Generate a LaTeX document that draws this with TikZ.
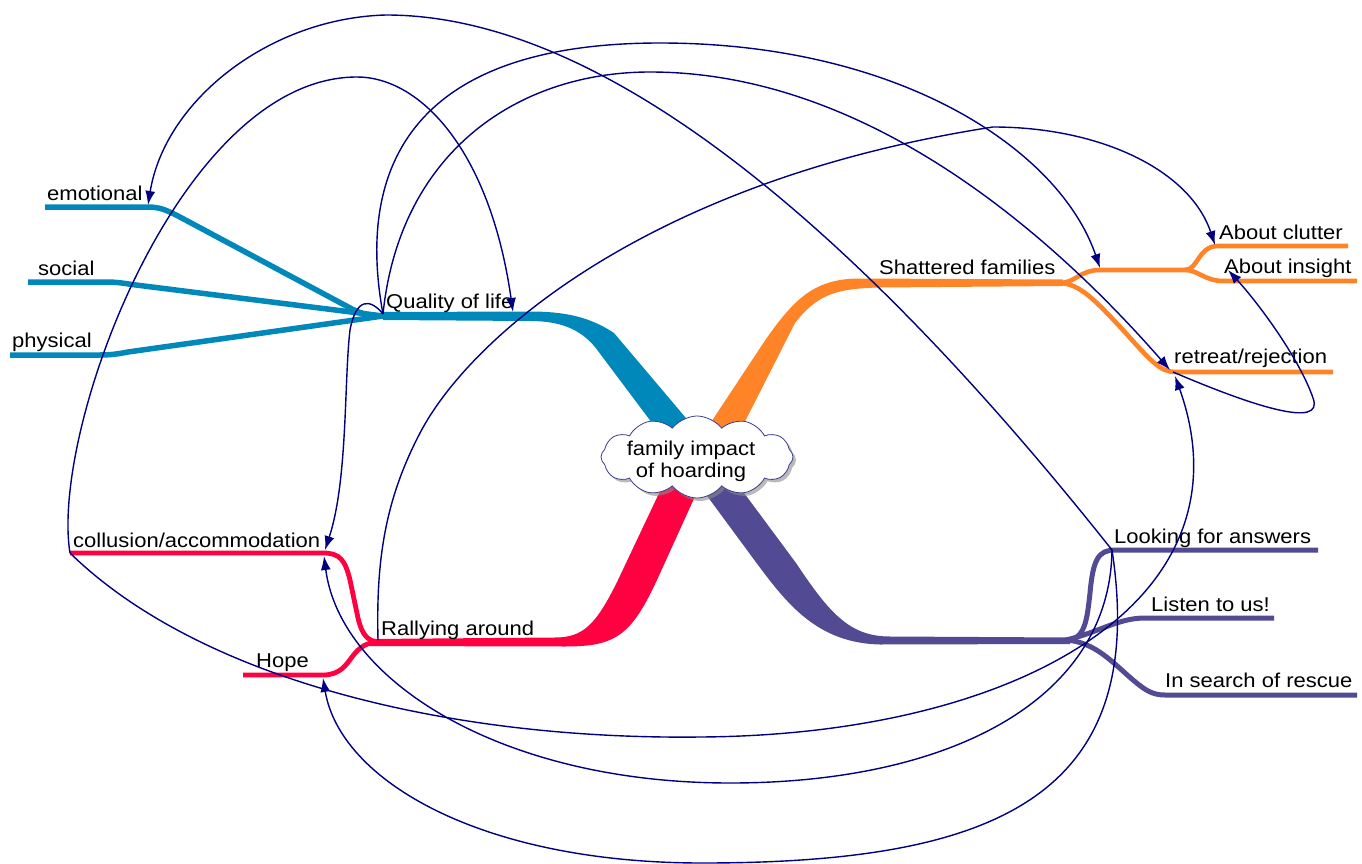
\documentclass[tikz,border=0pt]{standalone}
\usepackage{fontspec}
\setmainfont{Liberation Sans}[FakeStretch=1.1]
\usetikzlibrary{arrows.meta,shapes.symbols,shadows}
\definecolor{qcol}{HTML}{0088BB}
\definecolor{scol}{HTML}{FF8427}
\definecolor{rcol}{HTML}{FF0040}
\definecolor{lcol}{HTML}{524A92}
\definecolor{link}{HTML}{000080}
\definecolor{cloudline}{HTML}{3C3C8C}
\begin{document}
\begin{tikzpicture}[x=1pt,y=-1pt,
  lbl/.style={anchor=base west,inner sep=0pt,font=\fontsize{20}{24}\selectfont},
  hubtxt/.style={anchor=base,inner sep=0pt,font=\fontsize{20}{24}\selectfont},
  qtwig/.style={draw=qcol,line width=5.5pt},
  rtwig/.style={draw=rcol,line width=4.8pt},
  stwig/.style={draw=scol,line width=4.6pt},
  ltwig/.style={draw=lcol,line width=5pt},
  relation/.style={draw=link,line width=1.4pt,-{Latex[length=14pt,width=10pt]}}]
\useasboundingbox (0,0) rectangle (1362,864);

% attachment points
\coordinate (qroot) at (383,314);
\coordinate (qtip) at (513,312);
\coordinate (emotip) at (148,205);
\coordinate (collL) at (70,553);
\coordinate (collTop) at (325,550);
\coordinate (collBot) at (324,556);
\coordinate (hopeTip) at (323,678);
\coordinate (rroot) at (378,640);
\coordinate (sftip) at (1100,268);
\coordinate (cluttip) at (1215,245);
\coordinate (instip) at (1228,270);
\coordinate (retrL) at (1170,370);
\coordinate (retrB) at (1175,376);
\coordinate (retrS) at (1173,372);
\coordinate (lookS) at (1112,550);

% main branches (tapered)
\fill[qcol] (383,312) -- (530,311.5) .. controls (565,311.5) and (590,317) .. (614,333) -- (713,450) -- (688,471) -- (595,347) .. controls (580,329) and (560,321) .. (530,321) -- (383,320) -- cycle;
\fill[scol] (688,457) -- (766,339) .. controls (795,298) and (815,278.5) .. (860,278.5) -- (1063,279.5) -- (1063,286) -- (880,287.5) .. controls (835,288.5) and (817,295) .. (795,323) -- (727,457) -- cycle;
\fill[lcol] (727,470) -- (796,563) .. controls (830,614) and (850,636.5) .. (890,636.5) -- (1070,637.5) -- (1070,644) -- (880,644.5) .. controls (818,643) and (788,605) .. (758,565) -- (688,470) -- cycle;
\fill[rcol] (707,470) -- (657,580) .. controls (631,636) and (615,646.5) .. (565,646.5) -- (370,646) -- (370,639) -- (555,637.5) .. controls (583,637.5) and (596,625) .. (618,580) -- (670,470) -- cycle;

% sub-branches
\draw[qtwig] (45,207) -- (147,207) .. controls (160,207) and (166,210) .. (178,216) -- (352,309) .. controls (362,314) and (370,316) .. (383,316);
\draw[qtwig] (28,282) -- (106,282) .. controls (116,282) and (122,283) .. (132,284.5) -- (383,316);
\draw[qtwig] (10,355) -- (100,355) .. controls (110,355) and (118,354) .. (128,352) -- (383,316);

\draw[rtwig] (70,553) -- (323,553) .. controls (340,553) and (345,560) .. (350,580) -- (358,618) .. controls (362,635) and (368,642) .. (380,642);
\draw[rtwig] (243,675) -- (323,675) .. controls (340,675) and (346,665) .. (352,657) .. controls (360,646) and (368,642) .. (380,642);

\draw[stwig] (1060,283) .. controls (1075,283) and (1080,270) .. (1100,270) -- (1185,270);
\draw[stwig] (1185,270) .. controls (1198,270) and (1198,246) .. (1218,246) -- (1348,246);
\draw[stwig] (1185,270) .. controls (1198,270) and (1205,281) .. (1223,281) -- (1357,281);
\draw[stwig] (1060,283) .. controls (1080,284) and (1095,300) .. (1123,330) .. controls (1150,360) and (1160,372) .. (1175,372) -- (1333,372);

\draw[ltwig] (1066,640) .. controls (1085,640) and (1087,620) .. (1090,593) .. controls (1093,560) and (1098,550) .. (1115,550) -- (1318,550);
\draw[ltwig] (1066,640) .. controls (1100,632) and (1118,618) .. (1145,618) -- (1274,618);
\draw[ltwig] (1066,640) .. controls (1095,642) and (1112,662) .. (1133,680) .. controls (1145,690) and (1152,695) .. (1165,695) -- (1357,695);

% central topic
\node[cloud, cloud puffs=12, cloud puff arc=105, aspect=2.4, minimum width=192pt, minimum height=82pt, inner sep=0pt,
      draw=cloudline, line width=0.8pt, fill=white,
      drop shadow={shadow xshift=3pt,shadow yshift=-3pt,fill=black!45,opacity=.6}] (hub) at (697,457) {};
\node[hubtxt] (hubA) at (691,455) {family impact};
\node[hubtxt] (hubB) at (691,477) {of hoarding};

% labels
\node[lbl] (emo) at (47,200) {emotional};
\node[lbl] (soc) at (38,275) {social};
\node[lbl] (phy) at (12,347) {physical};
\node[lbl] (qol) at (386,308) {Quality of life};
\node[lbl] (col) at (73,547) {collusion/accommodation};
\node[lbl] (hop) at (256,667) {Hope};
\node[lbl] (ral) at (381,635) {Rallying around};
\node[lbl] (sha) at (879,274) {Shattered families};
\node[lbl] (clu) at (1219,239) {About clutter};
\node[lbl] (ins) at (1224,273) {About insight};
\node[lbl] (ret) at (1174,363) {retreat/rejection};
\node[lbl] (loo) at (1114,543) {Looking for answers};
\node[lbl] (lis) at (1151,611) {Listen to us!};
\node[lbl] (res) at (1165,687) {In search of rescue};

% relationship links
\draw[relation] (lookS) .. controls (850,220) and (600,15) .. (386,15) .. controls (270,18) and (165,100) .. (emotip);
\draw[relation] (collL) .. controls (50,430) and (180,77) .. (357,77) .. controls (420,77) and (490,150) .. (qtip);
\draw[relation] (collL) .. controls (200,680) and (450,740) .. (700,737) .. controls (1020,735) and (1255,600) .. (retrB);
\draw[relation] (qroot) .. controls (360,190) and (390,43) .. (660,43) .. controls (900,43) and (1060,150) .. (sftip);
\draw[relation] (qroot) .. controls (400,150) and (520,72) .. (650,72) .. controls (850,72) and (1030,210) .. (retrL);
\draw[relation] (qroot) .. controls (370,298) and (356,298) .. (350,330) .. controls (344,380) and (348,480) .. (collTop);
\draw[relation] (rroot) .. controls (376,560) and (385,500) .. (420,433) .. controls (470,337) and (650,180) .. (993,127) .. controls (1100,127) and (1190,170) .. (cluttip);
\draw[relation] (lookS) .. controls (1110,700) and (950,783) .. (730,783) .. controls (500,783) and (340,680) .. (collBot);
\draw[relation] (lookS) .. controls (1150,800) and (990,863) .. (702,863) .. controls (480,863) and (340,780) .. (hopeTip);
\draw[relation] (retrS) .. controls (1250,405) and (1325,430) .. (1313,398) .. controls (1300,360) and (1260,305) .. (instip);
\end{tikzpicture}
\end{document}
